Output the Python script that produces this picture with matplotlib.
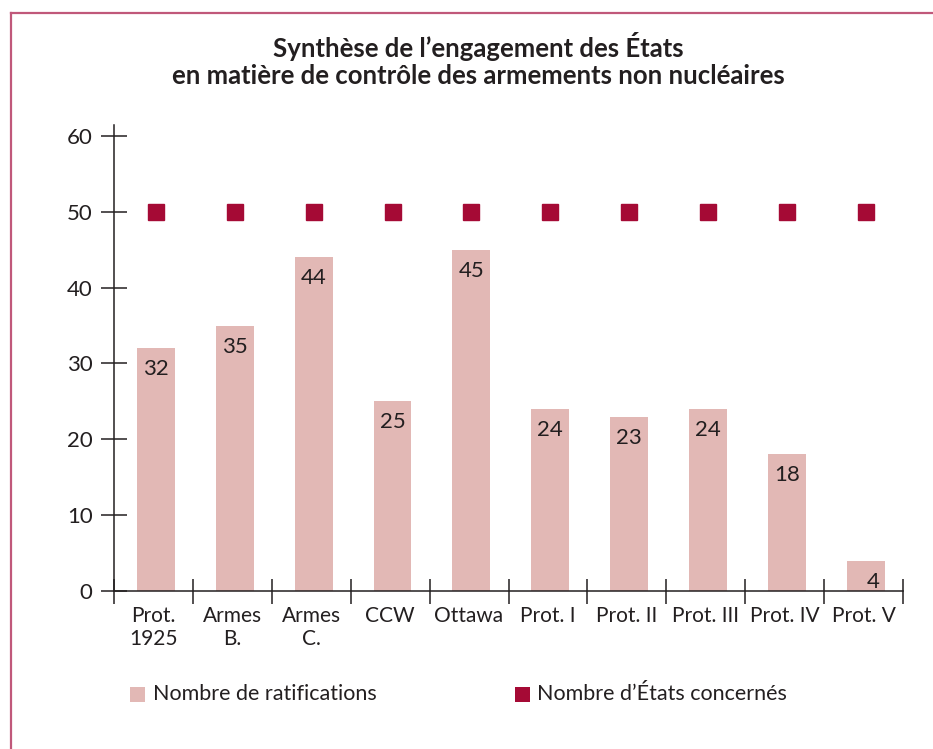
import matplotlib
matplotlib.use("Agg")
import matplotlib.pyplot as plt
from matplotlib.ticker import FixedLocator
from matplotlib.patches import Rectangle
import numpy as np

plt.rcParams['font.family'] = ['Lato', 'DejaVu Sans']

categories = ["Prot.\n1925", "Armes\nB.", "Armes\nC.", "CCW", "Ottawa",
              "Prot. I", "Prot. II", "Prot. III", "Prot. IV", "Prot. V"]
ratifications = [32, 35, 44, 25, 45, 24, 23, 24, 18, 4]
etats = [50, 50, 50, 50, 50, 50, 50, 50, 50, 50]
yticks = [0, 10, 20, 30, 40, 50, 60]
title = "Synthèse de l’engagement des États\nen matière de contrôle des armements non nucléaires"
legend_labels = ["Nombre de ratifications", "Nombre d’États concernés"]

BAR = "#e2b8b5"
MARK = "#a50a35"
TXT = "#231f20"
FRAME = "#c0587a"

fig = plt.figure(figsize=(9.33, 7.49), dpi=100)
ax = fig.add_axes([114/933, 1-591/749, (903-114)/933, (591-124.6)/749])

x = np.arange(len(categories))
ax.bar(x + 0.03, ratifications, width=0.48, color=BAR, zorder=2)
ax.plot(x + 0.03, etats, linestyle="none", marker="s", markersize=11.5, color=MARK, zorder=3)

for xi, v in zip(x, ratifications):
    ax.annotate(str(v), (xi + 0.03, v), xytext=(7 if v < 10 else 0, -21), textcoords="offset pixels",
                ha="center", va="center", fontsize=16, color=TXT)

ax.set_xlim(-0.5, len(categories) - 0.5)
ax.set_ylim(0, 61.5)
ax.set_yticks(yticks)
ax.set_yticklabels([str(t) for t in yticks], fontsize=16, color=TXT)
ax.tick_params(axis="y", direction="inout", length=19, width=1.1, color=TXT, pad=6)

ax.set_xticks(x)
ax.set_xticklabels(categories, fontsize=15, color=TXT, linespacing=1.2)
ax.tick_params(axis="x", which="major", length=0, pad=11)
ax.xaxis.set_minor_locator(FixedLocator(np.arange(-0.5, len(categories), 1.0)))
ax.tick_params(axis="x", which="minor", direction="inout", length=18, width=1.1, color=TXT)

for s in ["top", "right"]:
    ax.spines[s].set_visible(False)
for s in ["left", "bottom"]:
    ax.spines[s].set_color(TXT)
    ax.spines[s].set_linewidth(1.1)

fig.text(478/933, 1-60/749, title, ha="center", va="center", fontsize=18.5,
         fontweight="bold", color=TXT, linespacing=1.15)

# legend
fig.patches.append(Rectangle((130/933, 1-702/749), 15/933, 15/749, transform=fig.transFigure,
                             facecolor=BAR, edgecolor="none"))
fig.text(153/933, 1-694/749, legend_labels[0], ha="left", va="center", fontsize=15.5, color=TXT)
fig.patches.append(Rectangle((515/933, 1-702/749), 15/933, 15/749, transform=fig.transFigure,
                             facecolor=MARK, edgecolor="none"))
fig.text(537/933, 1-694/749, legend_labels[1], ha="left", va="center", fontsize=15.5, color=TXT)

# frame lines
fig.add_artist(plt.Line2D([10.5/933, 1], [1-13/749, 1-13/749], transform=fig.transFigure,
                          color=FRAME, linewidth=1.6))
fig.add_artist(plt.Line2D([10.5/933, 10.5/933], [0, 1-13/749], transform=fig.transFigure,
                          color=FRAME, linewidth=1.6))

fig.savefig("out.png", dpi=100)
